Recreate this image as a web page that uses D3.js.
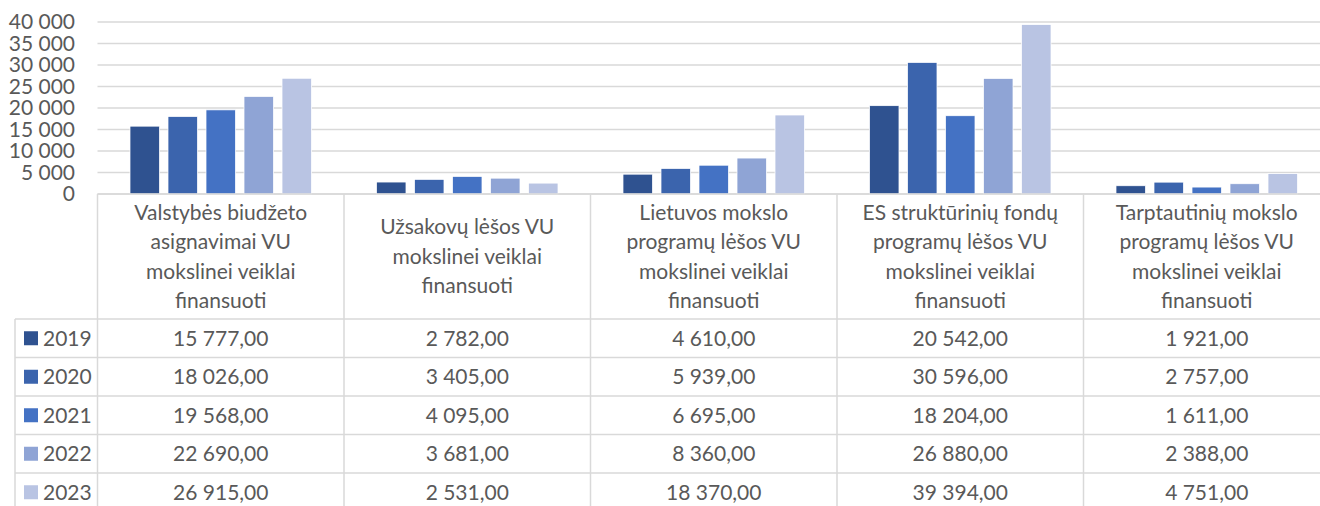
<!DOCTYPE html>
<html>
<head>
<meta charset="utf-8">
<script src="https://cdnjs.cloudflare.com/ajax/libs/d3/7.8.5/d3.min.js"></script>
<style>
  body { margin: 0; background: #fff; }
  text { font-family: Lato, "Open Sans", sans-serif; fill: #595959; }
</style>
</head>
<body>
<div id="chart"></div>
<script>
// categories (header text wrapped as in the original table)
var categories = [
    ["Valstybės biudžeto", "asignavimai VU", "mokslinei veiklai", "finansuoti"],
    ["Užsakovų lėšos VU", "mokslinei veiklai", "finansuoti"],
    ["Lietuvos mokslo", "programų lėšos VU", "mokslinei veiklai", "finansuoti"],
    ["ES struktūrinių fondų", "programų lėšos VU", "mokslinei veiklai", "finansuoti"],
    ["Tarptautinių mokslo", "programų lėšos VU", "mokslinei veiklai", "finansuoti"]
];
var years = ["2019", "2020", "2021", "2022", "2023"];
var values2019 = [15777, 2782, 4610, 20542, 1921];
var values2020 = [18026, 3405, 5939, 30596, 2757];
var values2021 = [19568, 4095, 6695, 18204, 1611];
var values2022 = [22690, 3681, 8360, 26880, 2388];
var values2023 = [26915, 2531, 18370, 39394, 4751];
var yTicks = [0, 5000, 10000, 15000, 20000, 25000, 30000, 35000, 40000];

var series = [values2019, values2020, values2021, values2022, values2023];

var width = 1320, height = 506;
var plotLeft = 97.5, catW = 246.5,
    plotTop = 22, plotBottom = 194,
    headerBottom = 319, rowH = 38.5, tableLeft = 15;

var color = d3.scaleOrdinal()
    .domain(years)
    .range(["#2F5290", "#3B64AD", "#4472C4", "#8FA4D5", "#B9C4E3"]);

var lt = d3.formatLocale({decimal: ",", thousands: "\u00a0", grouping: [3], currency: ["", ""]});
var fmtTick = lt.format(",.0f");
var fmtVal = lt.format(",.2f");

var svg = d3.select("#chart").append("svg")
    .attr("width", width)
    .attr("height", height);

var x0 = d3.scaleBand()
    .domain(d3.range(categories.length))
    .range([plotLeft, plotLeft + catW * categories.length])
    .paddingInner(0).paddingOuter(0);

var x1 = d3.scaleBand()
    .domain(years)
    .range([0, x0.bandwidth()])
    .paddingInner(0.224)
    .paddingOuter(0.855);

var y = d3.scaleLinear()
    .domain([0, 40000])
    .range([plotBottom, plotTop]);

// gridlines
svg.append("g")
    .selectAll("line")
    .data(yTicks)
    .enter().append("line")
    .attr("x1", plotLeft)
    .attr("x2", width)
    .attr("y1", function (d) { return y(d); })
    .attr("y2", function (d) { return y(d); })
    .style("stroke", "#D9D9D9")
    .style("stroke-width", 1.5);

// y axis labels
svg.append("g")
    .selectAll("text")
    .data(yTicks)
    .enter().append("text")
    .attr("x", 75)
    .attr("y", function (d) { return y(d); })
    .attr("dy", "0.35em")
    .attr("text-anchor", "end")
    .style("font-size", "21px")
    .text(function (d) { return fmtTick(d); });

// bars
var groups = svg.selectAll(".series")
    .data(categories.map(function (c, i) {
        return years.map(function (yr, j) { return {cat: i, year: yr, value: series[j][i]}; });
    }))
    .enter().append("g")
    .attr("class", "series")
    .attr("transform", function (d, i) { return "translate(" + x0(i) + ",0)"; });

groups.selectAll("rect")
    .data(function (d) { return d; })
    .enter().append("rect")
    .attr("x", function (d) { return x1(d.year); })
    .attr("width", x1.bandwidth())
    .attr("y", function (d) { return y(d.value); })
    .attr("height", function (d) { return y(0) - y(d.value); })
    .style("fill", function (d) { return color(d.year); })
    .style("stroke", "white")
    .style("stroke-width", 0.75);

// data table lines
var grid = svg.append("g").style("stroke", "#D9D9D9").style("stroke-width", 1.5);
var nRows = years.length;
// axis line / table top
grid.append("line")
    .attr("x1", plotLeft).attr("x2", width)
    .attr("y1", plotBottom).attr("y2", plotBottom);
// row lines
grid.selectAll(".row")
    .data(d3.range(nRows + 1))
    .enter().append("line")
    .attr("x1", tableLeft).attr("x2", width)
    .attr("y1", function (d) { return headerBottom + d * rowH; })
    .attr("y2", function (d) { return headerBottom + d * rowH; });
// column lines
grid.selectAll(".col")
    .data(d3.range(categories.length + 1))
    .enter().append("line")
    .attr("x1", function (d) { return plotLeft + d * catW; })
    .attr("x2", function (d) { return plotLeft + d * catW; })
    .attr("y1", plotBottom).attr("y2", height);
grid.append("line")
    .attr("x1", tableLeft).attr("x2", tableLeft)
    .attr("y1", headerBottom).attr("y2", height);

// header text
var lineH = 29.5;
categories.forEach(function (lines, i) {
    var cx = x0(i) + x0.bandwidth() / 2;
    var cy = (plotBottom + headerBottom) / 2;
    var start = cy - (lines.length - 1) * lineH / 2;
    svg.append("text")
        .attr("text-anchor", "middle")
        .style("font-size", "21px")
        .selectAll("tspan")
        .data(lines)
        .enter().append("tspan")
        .attr("x", cx)
        .attr("y", function (d, k) { return start + k * lineH; })
        .attr("dy", "0.35em")
        .text(function (d) { return d; });
});

// legend column + values
years.forEach(function (yr, j) {
    var cy = headerBottom + j * rowH + rowH / 2;
    svg.append("rect")
        .attr("x", 24).attr("y", cy - 7)
        .attr("width", 14).attr("height", 14)
        .style("fill", color(yr));
    svg.append("text")
        .attr("x", 43).attr("y", cy)
        .attr("dy", "0.35em")
        .style("font-size", "21px")
        .text(yr);
    series[j].forEach(function (v, i) {
        svg.append("text")
            .attr("x", x0(i) + x0.bandwidth() / 2)
            .attr("y", cy)
            .attr("dy", "0.35em")
            .attr("text-anchor", "middle")
            .style("font-size", "21px")
            .text(fmtVal(v));
    });
});
</script>
</body>
</html>
